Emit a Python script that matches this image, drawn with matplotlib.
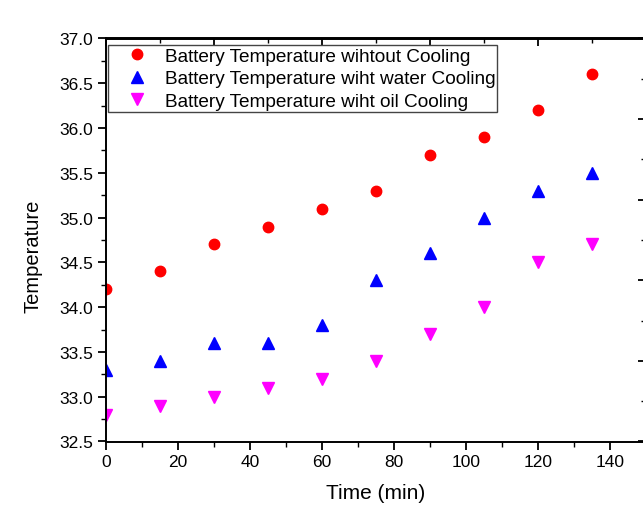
import matplotlib.pyplot as plt
from matplotlib.ticker import MultipleLocator

plt.rcParams['font.family'] = ['Liberation Sans', 'DejaVu Sans']

time_min = [0, 15, 30, 45, 60, 75, 90, 105, 120, 135]
temp_no_cooling = [34.2, 34.4, 34.7, 34.9, 35.1, 35.3, 35.7, 35.9, 36.2, 36.6]
temp_water = [33.3, 33.4, 33.6, 33.6, 33.8, 34.3, 34.6, 35.0, 35.3, 35.5]
temp_oil = [32.8, 32.9, 33.0, 33.1, 33.2, 33.4, 33.7, 34.0, 34.5, 34.7]

labels = ['Battery Temperature wihtout Cooling',
          'Battery Temperature wiht water Cooling',
          'Battery Temperature wiht oil Cooling']

W, H = 643, 506
fig = plt.figure(figsize=(W / 100, H / 100), dpi=100)
# the right edge of the frame sits just outside the picture, as in the original
ax = fig.add_axes([106 / W, 63.5 / H, 540 / W, 403 / H])

ax.plot(time_min, temp_no_cooling, 'o', color='#ff0000', markersize=7.5, label=labels[0])
ax.plot(time_min, temp_water, '^', color='#0000ff', markersize=8.5, label=labels[1])
ax.plot(time_min, temp_oil, 'v', color='#ff00ff', markersize=8.5, label=labels[2])

ax.set_xlim(0, 150)
ax.set_ylim(32.5, 37.0)
ax.xaxis.set_major_locator(MultipleLocator(20))
ax.xaxis.set_minor_locator(MultipleLocator(10))
ax.yaxis.set_major_locator(MultipleLocator(0.5))
ax.yaxis.set_minor_locator(MultipleLocator(0.25))
ax.xaxis.set_major_formatter(lambda v, p: '%d' % v)
ax.yaxis.set_major_formatter(lambda v, p: '%.1f' % v)

for s in ax.spines.values():
    s.set_linewidth(1.4)
ax.tick_params(which='major', direction='out', length=6, width=1.3, labelsize=12.5, pad=3)
ax.tick_params(which='minor', direction='out', length=3.5, width=1.0)

# top ticks (inward, every 15 min) and right ticks on their own scale
top = ax.secondary_xaxis('top')
top.xaxis.set_major_locator(MultipleLocator(30))
top.xaxis.set_minor_locator(MultipleLocator(15))
top.tick_params(which='major', direction='in', length=6, width=1.3, labeltop=False)
top.tick_params(which='minor', direction='in', length=3.5, width=1.0)
top.spines['top'].set_linewidth(1.4)

right = ax.secondary_yaxis('right', functions=(lambda y: (y - 32.5) / 0.9,
                                               lambda r: r * 0.9 + 32.5))
right.yaxis.set_major_locator(MultipleLocator(1))
right.yaxis.set_minor_locator(MultipleLocator(0.5))
right.tick_params(which='major', direction='in', length=6, width=1.3, labelright=False)
right.tick_params(which='minor', direction='in', length=3.5, width=1.0)

ax.set_xlabel('Time (min)', fontsize=15, labelpad=10)
ax.set_ylabel('Temperature', fontsize=14.5)
ax.yaxis.set_label_coords(-0.1185, 0.463)

leg = ax.legend(loc='upper left', bbox_to_anchor=(2 / 540, (442.5 - 46) / 403),
                borderaxespad=0, fontsize=13.7, fancybox=False, framealpha=1,
                borderpad=0.12, labelspacing=0.28, handlelength=2.8,
                handletextpad=0.05, numpoints=1)
leg.get_frame().set_edgecolor('#444444')
leg.get_frame().set_linewidth(1.0)

fig.savefig('out.png', dpi=100)
